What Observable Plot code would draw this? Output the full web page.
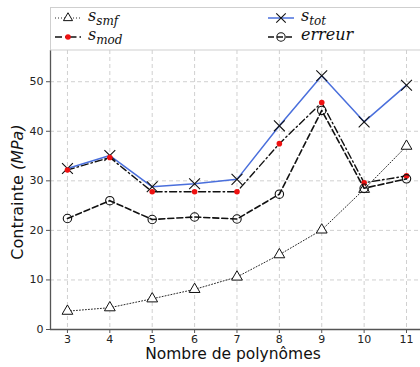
<!DOCTYPE html>
<html><head><meta charset="utf-8">
<script src="https://cdn.jsdelivr.net/npm/d3@7"></script>
<script src="https://cdn.jsdelivr.net/npm/@observablehq/plot@0.6"></script>
<style>body{margin:0;background:#fff;} #chart{position:relative;width:420px;height:367px;overflow:hidden;}</style>
</head><body><div id="chart"></div>
<script>
const polynomes = [3, 4, 5, 6, 7, 8, 9, 10, 11];
const sSmf   = [3.7, 4.4, 6.2, 8.1, 10.6, 15.1, 20.1, 28.3, 37.0];
const sMod   = [32.2, 34.7, 27.8, 27.8, 27.8, 37.5, 45.8, 29.6, 31.0];
const sTot   = [32.5, 35.1, 28.8, 29.4, 30.3, 41.1, 51.2, 41.9, 49.3];
const erreur = [22.4, 26.0, 22.2, 22.7, 22.3, 27.3, 44.2, 28.5, 30.4];
const yTicks = [0, 10, 20, 30, 40, 50];

const rows = (arr) => polynomes.map((p, i) => ({x: p, y: arr[i]}));
const dSmf = rows(sSmf), dMod = rows(sMod), dTot = rows(sTot), dErr = rows(erreur);

const plot = Plot.plot({
  width: 420, height: 367,
  marginLeft: 50, marginRight: 0, marginTop: 50, marginBottom: 38,
  style: {fontFamily: "DejaVu Sans", fontSize: "11px", background: "#fff"},
  x: {domain: [2.6, 11.33], ticks: polynomes, tickFormat: d => d, label: null, tickSize: 4},
  y: {domain: [0, 56.3], ticks: yTicks, label: null, tickSize: 4},
  marks: [
    Plot.gridX(polynomes, {stroke: "#d0d0d0", strokeOpacity: 1, strokeDasharray: "4,3"}),
    Plot.gridY(yTicks, {stroke: "#d0d0d0", strokeOpacity: 1, strokeDasharray: "4,3"}),
    Plot.axisX({ticks: polynomes, tickSize: 4, tickPadding: 2, fill: "#222", stroke: "#555"}),
    Plot.axisY({ticks: yTicks, tickSize: 4, tickPadding: 3, fill: "#222", stroke: "#555"}),
    Plot.ruleY([0], {stroke: "#555", strokeWidth: 1.3}),
    Plot.ruleX([2.6], {stroke: "#555", strokeWidth: 1.3}),
    Plot.line(dSmf, {x: "x", y: "y", stroke: "#111", strokeWidth: 0.9, strokeDasharray: "1,2"}),
    Plot.dot(dSmf, {x: "x", y: "y", symbol: "triangle", r: 4, stroke: "#111", fill: "#fff", strokeWidth: 1}),
    Plot.line(dMod, {x: "x", y: "y", stroke: "#111", strokeWidth: 1.4, strokeDasharray: "7,3,1.5,3"}),
    Plot.line(dTot, {x: "x", y: "y", stroke: "#4a6fdc", strokeWidth: 1.5}),
    Plot.dot(dTot, {x: "x", y: "y", symbol: "times", r: 5, stroke: "#111", strokeWidth: 1.1}),
    Plot.dot(dMod, {x: "x", y: "y", symbol: "circle", r: 2.8, fill: "#ee1111", stroke: "none"}),
    Plot.line(dErr, {x: "x", y: "y", stroke: "#111", strokeWidth: 1.6, strokeDasharray: "6,3"}),
    Plot.dot(dErr, {x: "x", y: "y", symbol: "circle", r: 4.2, stroke: "#111", fill: "none", strokeWidth: 1.1})
  ]
});
document.getElementById("chart").appendChild(plot);

const svg = d3.select(plot);
// y label
const yl = svg.append("text")
  .attr("transform", "translate(23,192) rotate(-90)")
  .attr("text-anchor", "middle")
  .style("font-family", "DejaVu Sans").style("font-size", "16px").attr("fill", "#111");
yl.append("tspan").text("Contrainte ");
yl.append("tspan").style("font-style", "italic").text("(MPa)");
// x label
svg.append("text").attr("x", 233).attr("y", 359).attr("text-anchor", "middle")
  .style("font-family", "DejaVu Sans").style("font-size", "15.5px").attr("fill", "#111")
  .text("Nombre de polynômes");

// legend box
const lg = svg.append("g").attr("text-anchor", "start");
lg.append("rect").attr("x", 50.5).attr("y", 7.5).attr("width", 380).attr("height", 42.5)
  .attr("fill", "#fff").attr("stroke", "#cfcfcf");
const entries = [
  {x: 55, y: 18, name: "s", sub: "smf", dash: "1,2", stroke: "#111", w: 0.9, sym: "tri"},
  {x: 55, y: 37, name: "s", sub: "mod", dash: "7,3,1.5,3", stroke: "#111", w: 1.4, sym: "red"},
  {x: 268, y: 18, name: "s", sub: "tot", dash: null, stroke: "#4a6fdc", w: 1.5, sym: "x"},
  {x: 268, y: 37, name: "erreur", sub: null, dash: "6,3", stroke: "#111", w: 1.6, sym: "o"}
];
for (const e of entries) {
  const l = lg.append("line").attr("x1", e.x).attr("x2", e.x + 26).attr("y1", e.y).attr("y2", e.y)
    .attr("stroke", e.stroke).attr("stroke-width", e.w);
  if (e.dash) l.attr("stroke-dasharray", e.dash);
  const cx = e.x + 13, cy = e.y;
  if (e.sym === "tri") lg.append("path").attr("d", d3.symbol(d3.symbolTriangle, 36)()).attr("transform", `translate(${cx},${cy})`).attr("fill", "#fff").attr("stroke", "#111");
  if (e.sym === "red") lg.append("circle").attr("cx", cx).attr("cy", cy).attr("r", 2.8).attr("fill", "#ee1111");
  if (e.sym === "x") lg.append("path").attr("d", d3.symbol(d3.symbolTimes, 60)()).attr("transform", `translate(${cx},${cy})`).attr("fill", "none").attr("stroke", "#111").attr("stroke-width", 1.1);
  if (e.sym === "o") lg.append("circle").attr("cx", cx).attr("cy", cy).attr("r", 4.2).attr("fill", "none").attr("stroke", "#111").attr("stroke-width", 1.1);
  const t = lg.append("text").attr("x", e.x + 33).attr("y", e.y + 3).attr("text-anchor", "start")
    .style("font-family", "DejaVu Serif").style("font-style", "italic").style("font-size", "16px").attr("fill", "#111");
  t.append("tspan").text(e.name);
  if (e.sub) t.append("tspan").attr("dy", 4).style("font-size", "12px").text(e.sub);
}
</script></body></html>
